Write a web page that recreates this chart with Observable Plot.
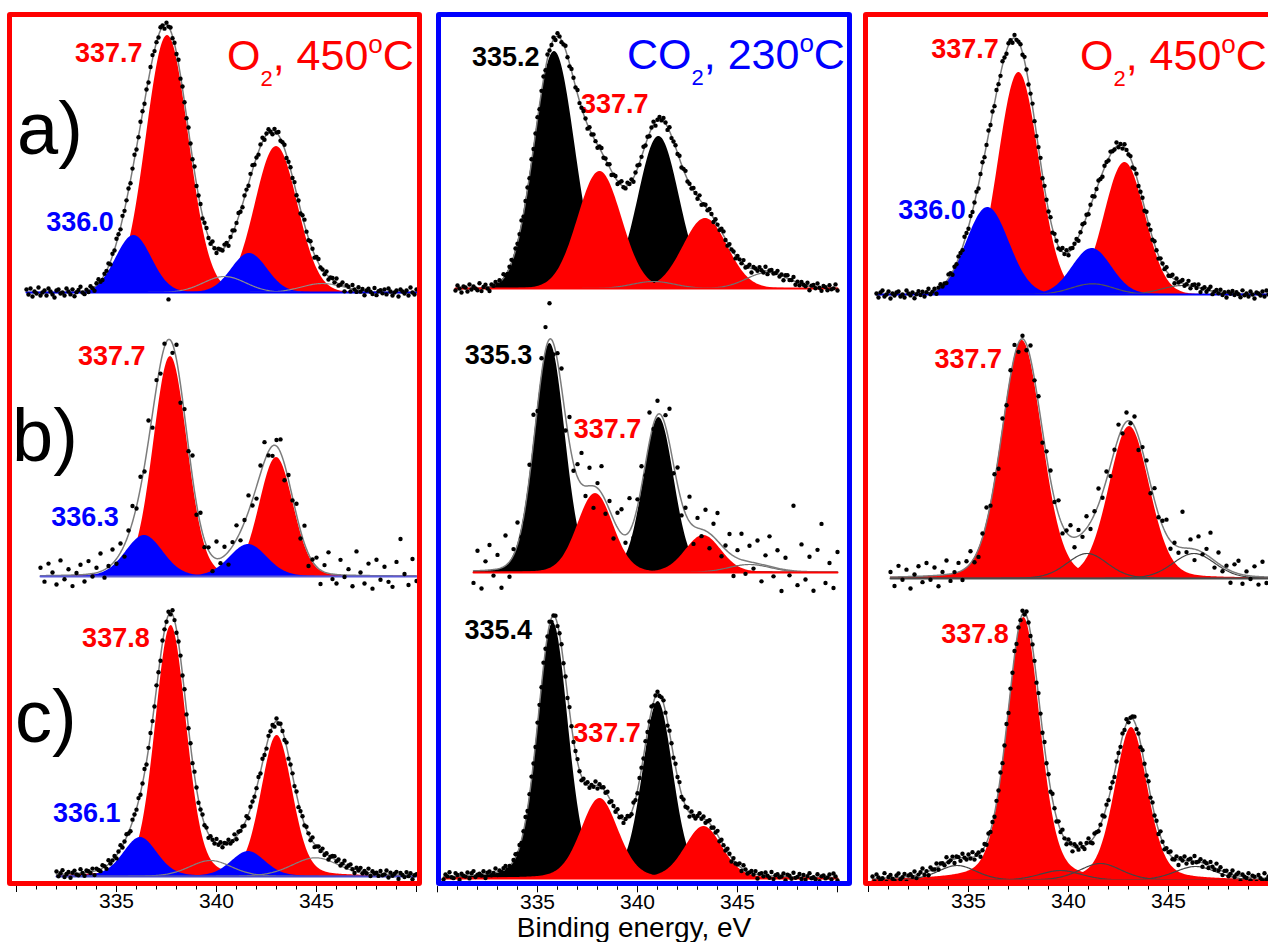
<!DOCTYPE html>
<html><head><meta charset="utf-8">
<script src="https://cdn.jsdelivr.net/npm/d3@7"></script>
<script src="https://cdn.jsdelivr.net/npm/@observablehq/plot@0.6"></script>
<style>
html,body{margin:0;padding:0;background:#fff;}
#page{position:relative;width:1268px;height:942px;overflow:hidden;font-family:"Liberation Sans",Arial,sans-serif;}
.panel{position:absolute;width:400px;}
.box{position:absolute;box-sizing:border-box;border:5.5px solid;border-radius:3px;pointer-events:none;}
.title{position:absolute;font-size:43px;line-height:1;white-space:nowrap;}
.title span{position:relative;}
.title .sub{font-size:22px;top:16px;}
.title .sup{font-size:26px;top:-17px;}
.tag{position:absolute;font-size:74px;line-height:1;color:#000;}
.xlabel{position:absolute;left:0;width:1268px;text-align:center;font-size:28px;line-height:1;color:#000;}
</style></head>
<body><div id="page"></div>
<script>
// ---------------- DATA ----------------
// Binding energy axis ticks (eV)
const majorTicks = [330, 335, 340, 345, 350];
const labelledTicks = [335, 340, 345];
const minorTicks = [330,331,332,333,334,335,336,337,338,339,340,341,342,343,344,345,346,347,348,349,350];

// Fitted components: [component, centre (eV), height (a.u.), FWHM (eV)]
const peaksA1 = [["red",337.55,257,2.5],["red",343.0,146,2.5],["blue",335.87,57,2.1],["blue",341.65,39,2.1],["sat",340.4,16,2.5],["sat",345.3,9,2.5]];
const peaksA2 = [["black",335.85,237,2.4],["black",341.07,152,2.4],["red",338.12,117,2.57],["red",343.4,70,2.6],["sat",340.8,7,2.5],["sat",346.5,16,2.5]];
const peaksA3 = [["red",337.52,222,2.4],["red",342.82,132,2.4],["blue",335.97,87,2.5],["blue",341.18,46,2.3],["sat",341.2,10.7,2.5],["sat",345.7,9,2.5]];
const peaksB1 = [["red",337.7,220,2.0],["red",343.0,119,2.0],["blue",336.4,41,2.2],["blue",341.6,32,2.2]];
const peaksB2 = [["black",335.62,229,1.8],["black",341.07,155,1.8],["red",337.9,79,2.1],["red",343.3,37,2.1],["sat",345.6,8,2.5]];
const peaksB3 = [["red",337.68,238,2.4],["red",343.05,152,2.4],["sat",340.93,25,2.4],["sat",346.27,25,2.5]];
const peaksC1 = [["red",337.73,251,1.85],["red",343.03,141,1.85],["blue",336.2,39,2.0],["blue",341.6,25,2.0],["sat",339.7,16,2.5],["sat",344.95,18.7,2.8]];
const peaksC2 = [["black",335.78,256,1.8],["black",341.03,177,1.8],["red",338.12,80,2.2],["red",343.32,52,2.2]];
const peaksC3 = [["red",337.77,263,1.95],["red",343.15,153,1.95],["sat",334.43,15,2.3],["sat",339.6,10,2.5],["sat",341.6,17,2.5],["sat",346.35,14,2.5]];

// Lorentzian fraction of the line shape in each spectrum
const mixA1 = 0, mixA2 = 0, mixA3 = 0, mixB1 = 0.1, mixB2 = 0.1, mixB3 = 0.15, mixC1 = 0.2, mixC2 = 0.2, mixC3 = 0.3;

// Peak labels: [text, index of labelled component]
const labelsA1 = [["337.7",0],["336.0",2]];
const labelsA2 = [["335.2",0],["337.7",2]];
const labelsA3 = [["337.7",0],["336.0",2]];
const labelsB1 = [["337.7",0],["336.3",2]];
const labelsB2 = [["335.3",0],["337.7",2]];
const labelsB3 = [["337.7",0]];
const labelsC1 = [["337.8",0],["336.1",2]];
const labelsC2 = [["335.4",0],["337.7",2]];
const labelsC3 = [["337.8",0]];

// Measured points: first energy (eV), energy step (eV), deviation of each point from the fit envelope (a.u.)
const startA1 = 330.5, stepA1 = 0.1;
const residA1 = [3,-2,4,-4,1,-1,5,-3,0,2,-3,4,1,-2,-5,2,3,-1,0,-3,
4,1,-2,3,-4,0,2,5,-1,-3,1,-2,3,0,-4,2,4,-1,-2,1,
0,3,-3,2,-1,4,1,-2,3,-1,0,2,-3,1,4,-2,-1,3,2,-2,
1,-3,2,4,-1,0,-2,3,1,-4,2,0,3,-2,1,-1,4,-3,2,0,
-2,3,1,-1,5,-2,0,2,-3,1,3,-1,-2,4,0,-3,2,1,-1,3,
2,-4,1,3,-2,0,4,-1,-3,2,1,-2,3,5,-1,0,-3,2,4,-2,
1,3,-1,-4,2,0,3,-2,1,4,-3,0,2,-1,3,-2,1,-4,2,5,
0,-2,3,1,-3,2,4,-1,0,-2,3,-3,1,2,-1,4,-2,0,3,-5,
2,1,-3,4,0,-2,3,-1,2,-4,1,3,0,-2,4,-3,1,2,-1,3,
-2,4,1,-3,0,2,-4,3,1,-1,2,-3,5,0,-2,3,-1,4,-3,1];
const startA2 = 330.9, stepA2 = 0.1;
const residA2 = [-2,3,0,-4,2,1,-3,4,-1,2,0,-2,5,-3,1,3,-1,-4,2,0,
3,-1,2,-3,4,0,-2,1,3,-4,2,-1,0,4,-3,1,2,-2,3,-1,
0,2,-4,1,3,-2,4,0,-1,2,-3,3,1,-2,0,4,-1,-3,2,1,
-1,4,-2,0,3,1,-4,2,-1,3,0,-3,2,4,-2,1,-1,3,-4,0,
2,-3,1,4,-1,-2,3,0,2,-4,1,3,-2,0,4,-1,2,-3,1,3,
-4,0,2,-1,3,1,-3,4,-2,0,2,-1,3,-3,1,4,-2,0,-1,3,
1,-2,4,-3,0,2,-1,3,1,-4,2,0,-2,3,4,-1,-3,2,0,1,
-3,2,1,-1,4,-2,0,3,-4,2,1,-1,3,0,-2,4,-3,1,2,-1,
0,3,-2,1,-4,2,3,-1,0,4,-3,1,-2,2,0,-1,3,-4,1,2,
-1,4,0,-3,2,1,-2,3,-1,0,4,-2,1,-3,2,0,3,-1,-4,2];
const startA3 = 330.4, stepA3 = 0.1;
const residA3 = [1,-3,2,4,-2,0,3,-4,1,-1,2,3,-2,0,-3,4,1,-1,2,-4,
0,3,-1,2,-3,1,4,-2,0,2,-4,1,3,-1,0,-2,4,2,-3,1,
-1,2,0,-3,4,1,-2,3,-1,0,2,-4,1,3,-2,0,4,-1,2,-3,
3,-1,-2,4,0,-3,2,1,-4,3,-1,0,2,-2,4,1,-3,0,3,-1,
-2,1,4,-3,2,0,-1,3,-4,2,1,-2,0,4,-1,3,-3,2,0,1,
2,-4,0,3,-1,2,-3,1,4,-2,0,3,-1,-4,2,1,-2,3,0,-1,
4,-2,1,-3,3,0,-1,2,-4,1,3,-2,0,2,-3,4,-1,1,-2,3,
0,-3,2,1,-1,4,-2,0,3,-4,2,-1,1,3,-2,0,4,-3,1,2,
-1,3,-4,0,2,-2,1,4,-3,0,2,-1,3,-2,1,-4,2,0,3,-1,
2,0,-3,4,-1,1,-2,3,0,-4,2,1,-1,3,-2,4,0,-3,1,2];
const startB1 = 331.2, stepB1 = 0.2;
const residB1 = [8,-6,12,3,-9,15,-4,6,-11,2,10,-7,13,-3,5,18,-8,1,14,-5,
9,-12,4,16,-2,11,-6,20,-14,7,-10,3,40,-9,15,-18,6,-4,22,-11,
12,-7,3,-15,17,-5,9,-13,4,14,-9,2,16,-6,-12,8,19,-4,-10,6,
13,-16,5,-3,11,-8,18,-12,2,9,-14,7,21,-5,-9,15,-2,6,-11,24,
3,-8,12,-13,16,-4,9,-6,-11,14,37,2,-9,17,-5,8,-12,4,-7,11];
const startB2 = 331.8, stepB2 = 0.2;
const residB2 = [-12,20,-18,9,25,-6,14,-20,30,-15,6,22,-9,-17,12,28,-4,16,23,36,
-11,8,19,-14,26,-7,13,31,-10,18,-22,5,27,-13,9,-19,15,24,-8,33,
-16,7,20,-12,29,-5,14,-21,11,35,-9,17,-14,6,25,-18,10,-7,21,-15,
13,28,-11,4,19,-20,8,26,-13,16,-6,23,-17,10,30,-9,18,-22,12,-5,
65,-14,27,-8,15,-19,22,48,-11,9,-16,20,-7,25,-13,6];
const startB3 = 331.1, stepB3 = 0.2;
const residB3 = [5,-9,11,-3,7,-12,2,10,-6,13,-4,8,-11,3,14,-7,1,9,-10,6,
12,-5,-8,4,15,-2,7,-13,10,-4,6,11,-9,3,-6,13,-1,8,-12,5,
9,-3,14,-8,2,11,-10,6,-4,12,-7,3,16,-5,8,-11,1,13,-6,9,
-2,10,-13,4,7,-9,12,-3,5,15,-8,2,-6,36,-4,9,-11,14,-2,6,
25,-7,11,-5,3,-12,8,13,-9,4,-3,10,-8,15,-6,2,-10,7,-4,12];
const startC1 = 332.0, stepC1 = 0.1;
const residC1 = [3,-2,1,4,-3,0,2,-4,1,3,-1,-2,4,0,-3,2,1,-1,3,-4,
2,0,-2,3,1,-3,4,-1,0,2,-3,1,4,-2,0,3,-1,-4,2,1,
-1,3,-2,0,4,-3,1,2,-1,-2,3,0,-4,2,1,-1,3,-2,4,0,
-3,1,2,-1,3,-4,0,2,-2,4,1,-3,0,3,-1,2,-4,1,0,-2,
4,-1,2,-3,1,0,3,-2,-1,4,-3,2,0,1,-2,3,-4,2,1,-1,
0,3,-2,4,-1,-3,2,0,1,-4,3,-1,2,0,-2,4,-3,1,2,-1,
3,-4,0,2,-1,3,1,-2,4,-3,0,2,-1,3,-2,1,-4,0,2,3,
-1,2,-3,0,4,-2,1,3,-1,-4,2,0,3,-2,1,-1,4,-3,2,0,
1,-2,3,-1,0,4,-3,2,-1,1,3,-4,2,0,-2,
3,-1,2,-4,0,1,-2,4,-3,2,0,-1,3,-2,1,4,-3,0,2,-1];
const startC2 = 330.3, stepC2 = 0.1;
const residC2 = [-3,2,0,4,-1,-2,3,1,-4,2,0,-1,3,-3,2,4,-2,0,1,-1,
3,-4,1,2,-2,0,4,-3,1,-1,2,3,-2,0,-4,1,3,-1,2,-3,
0,4,-2,1,3,-1,-3,2,0,-2,4,1,-1,3,-4,0,2,-2,1,3,
-1,2,-3,4,0,-2,1,3,-1,-4,2,0,3,-2,1,-1,4,-3,2,0,
2,-1,3,-4,1,0,-2,4,-1,2,-3,1,3,0,-2,4,-1,-3,2,1,
-2,3,0,-1,4,-3,1,2,-2,0,3,-1,-4,2,1,-2,3,0,4,-3,
1,-1,2,-4,3,0,-2,1,4,-1,2,-3,0,3,-2,1,-1,4,-3,2,
0,-2,3,1,-4,2,-1,0,3,-3,4,1,-2,0,2,-1,3,-4,1,2,
-1,3,0,-2,4,-3,1,2,-1,0,3,-4,2,1,-2,4,-1,0,3,-2,
2,-3,1,4,-1,0,-2,3,-4,1,2,-1,0,3,-2,4,1,-3,0,2];
const startC3 = 330.2, stepC3 = 0.1;
const residC3 = [2,-3,4,1,-2,0,5,-4,1,3,-1,-3,2,4,-2,0,3,-5,1,2,
-1,4,-3,0,2,5,-2,1,-4,3,0,-1,4,-3,2,1,-2,5,-1,0,
3,-4,2,1,-3,4,0,-2,3,-1,5,-3,1,2,-4,0,3,-2,4,-1,
1,-3,2,0,4,-2,-1,3,-4,2,0,5,-3,1,-1,3,-2,4,0,-3,
2,1,-4,3,0,-2,5,-1,2,-3,6,1,-4,3,-2,5,0,-3,4,2,
-5,3,1,-2,4,0,-3,2,5,-1,-4,3,1,-2,0,4,-3,2,-1,3,
0,-4,2,1,-2,3,-1,4,-3,0,2,5,-2,1,-4,3,0,-1,4,-2,
3,-1,2,-4,5,0,-3,2,1,4,-2,-1,3,-5,2,0,4,-3,1,2,
-2,5,-1,0,3,-4,2,1,-3,4,0,-2,5,-1,3,-4,1,2,-3,0,
4,-2,1,3,-5,2,0,-1,4,-3,2,1,-4,3,0,-2,5,-1,2,-3];

// ---------------- LAYOUT / STYLE ----------------
const FONT = '"Liberation Sans", Arial, sans-serif';
const fillColor = {red: "#ff0000", blue: "#0000ff", black: "#000000"};
const colX = [16, 436.7, 867.7];            // page x of 330 eV in each column
const panels = [
  {peaks: peaksA1, mix: mixA1, labels: labelsA1, start: startA1, step: stepA1, resid: residA1},
  {peaks: peaksA2, mix: mixA2, labels: labelsA2, start: startA2, step: stepA2, resid: residA2},
  {peaks: peaksA3, mix: mixA3, labels: labelsA3, start: startA3, step: stepA3, resid: residA3},
  {peaks: peaksB1, mix: mixB1, labels: labelsB1, start: startB1, step: stepB1, resid: residB1},
  {peaks: peaksB2, mix: mixB2, labels: labelsB2, start: startB2, step: stepB2, resid: residB2},
  {peaks: peaksB3, mix: mixB3, labels: labelsB3, start: startB3, step: stepB3, resid: residB3},
  {peaks: peaksC1, mix: mixC1, labels: labelsC1, start: startC1, step: stepC1, resid: residC1},
  {peaks: peaksC2, mix: mixC2, labels: labelsC2, start: startC2, step: stepC2, resid: residC2},
  {peaks: peaksC3, mix: mixC3, labels: labelsC3, start: startC3, step: stepC3, resid: residC3}
];
const layout = [
  {col: 0, base: 292,   line: "#0000ff", sat: "#8c8c8c", lab: [[-25, 17.5, "end"], [-20, -13.5, "end"]]},
  {col: 1, base: 288.3, line: "#ff0000", sat: "#707070", lab: [[-15, 6.3, "end"], [-19, -66.7, "start"]]},
  {col: 2, base: 294,   line: "#0000ff", sat: "#555555", lab: [[-20, -23.3, "end"], [-22, 2.8, "end"]]},
  {col: 0, base: 575.7, line: "#5b5bd6", sat: "#8c8c8c", lab: [[-25, 0, "end"], [-25.7, -18.3, "end"]]},
  {col: 1, base: 571.7, line: "#ff0000", sat: "#707070", lab: [[-17.6, 11.5, "end"], [-21.7, -63.7, "start"]]},
  {col: 2, base: 578.3, line: "#4a4a4a", sat: "#444444", lab: [[-20, 19, "end"]]},
  {col: 0, base: 876,   line: "#4848c8", sat: "#808080", lab: [[-21.4, 13, "end"], [-20, -24, "end"]], axis: true},
  {col: 1, base: 877.7, line: "#ff0000", sat: "#707070", lab: [[-21, 8.3, "end"], [-26.6, -65.6, "start"]], axis: true},
  {col: 2, base: 880,   line: "#ff0000", sat: "#444444", lab: [[-15, 16.6, "end"]], axis: true}
];
const FRAME_BOTTOM = 886, TOP_ROOM = 285;

const page = document.getElementById("page");
const hasAxisMark = typeof Plot.axisX === "function";

function drawPanel(d, L) {
  const n = Math.round((350 - d.start) / 0.05);
  const xs = d3.range(n + 1).map(k => d.start + k * 0.05);
  const shape = (x, p) => {
    const t = (x - p[1]) / p[3];
    return p[2] * ((1 - d.mix) * Math.exp(-4 * Math.LN2 * t * t) + d.mix / (1 + 4 * t * t));
  };
  const total = x => d3.sum(d.peaks, p => shape(x, p));
  const marks = [];
  d.peaks.forEach(p => {
    if (p[0] !== "sat") marks.push(Plot.areaY(xs, {x: x => x, y: x => shape(x, p), fill: fillColor[p[0]]}));
  });
  d.peaks.forEach(p => {
    if (p[0] === "sat") marks.push(Plot.lineY(xs, {x: x => x, y: x => shape(x, p), stroke: L.sat, strokeWidth: 1.2}));
  });
  marks.push(Plot.lineY(xs, {x: x => x, y: total, stroke: "#7c7c7c", strokeWidth: 1.5}));
  marks.push(Plot.lineY(xs, {x: x => x, y: () => 0, stroke: L.line, strokeWidth: 2}));
  d.labels.forEach(([t, pi], j) => {
    const p = d.peaks[pi];
    const [dx, dy, anchor] = L.lab[j];
    marks.push(Plot.text([p], {x: q => q[1], y: q => q[2], text: () => t, dx, dy, textAnchor: anchor,
      fill: fillColor[p[0]], fontSize: 27, fontWeight: "bold", fontFamily: FONT}));
  });
  const pts = d.resid.map((r, k) => {
    const x = d.start + k * d.step;
    return {x, y: total(x) + r};
  }).filter(q => q.x <= 350.001);
  marks.push(Plot.dot(pts, {x: "x", y: "y", r: 2.2, fill: "#000"}));

  const lo = L.axis ? -(FRAME_BOTTOM - L.base) : -40;
  const mb = L.axis ? 40 : 0;
  const xOpts = {domain: [330, 350]};
  if (L.axis) {
    if (hasAxisMark) {
      marks.push(Plot.axisX({ticks: majorTicks, tickSize: 6, tickPadding: 1, fontSize: 21, label: null,
        tickFormat: v => labelledTicks.includes(v) ? String(v) : ""}));
      marks.push(Plot.axisX({ticks: minorTicks, tickSize: 3.5, label: null, tickFormat: () => ""}));
    } else {
      Object.assign(xOpts, {ticks: majorTicks, tickSize: 6, tickPadding: 1, label: null,
        tickFormat: v => labelledTicks.includes(v) ? String(v) : ""});
    }
  } else {
    xOpts.axis = null;
  }
  const svg = Plot.plot({
    width: 400, height: TOP_ROOM - lo + mb,
    marginTop: 0, marginRight: 0, marginLeft: 0, marginBottom: mb,
    x: xOpts, y: {domain: [lo, TOP_ROOM], axis: null},
    style: {background: "transparent", overflow: "visible", fontFamily: FONT, fontSize: "21px", color: "#000"},
    marks
  });
  const wrap = document.createElement("div");
  wrap.className = "panel";
  wrap.style.left = colX[L.col] + "px";
  wrap.style.top = (L.base - TOP_ROOM) + "px";
  wrap.appendChild(svg);
  page.appendChild(wrap);
}
panels.forEach((d, i) => drawPanel(d, layout[i]));

// column frames
[[7, 415, "#ff0000"], [436, 416, "#0000ff"], [863, 450, "#ff0000"]].forEach(([l, w, c]) => {
  const b = document.createElement("div");
  b.className = "box";
  Object.assign(b.style, {left: l + "px", top: "12px", width: w + "px", height: "874px", borderColor: c});
  page.appendChild(b);
});

// column titles
const titles = [
  {left: 227, top: 33.6, color: "#ff0000", html: 'O<span class="sub">2</span>, 450<span class="sup">o</span>C'},
  {left: 627, top: 32.6, color: "#0000ff", html: 'CO<span class="sub">2</span>, 230<span class="sup">o</span>C'},
  {left: 1080, top: 33.6, color: "#ff0000", html: 'O<span class="sub">2</span>, 450<span class="sup">o</span>C'}
];
titles.forEach(t => {
  const el = document.createElement("div");
  el.className = "title";
  Object.assign(el.style, {left: t.left + "px", top: t.top + "px", color: t.color});
  el.innerHTML = t.html;
  page.appendChild(el);
});

// row tags
[["a)", 17, 92.4], ["b)", 12, 399.4], ["c)", 15, 680.4]].forEach(([s, l, t]) => {
  const el = document.createElement("div");
  el.className = "tag";
  el.textContent = s;
  Object.assign(el.style, {left: l + "px", top: t + "px"});
  page.appendChild(el);
});

const xl = document.createElement("div");
xl.className = "xlabel";
xl.style.top = "914px";
xl.textContent = "Binding energy, eV";
page.appendChild(xl);
</script>
</body></html>
